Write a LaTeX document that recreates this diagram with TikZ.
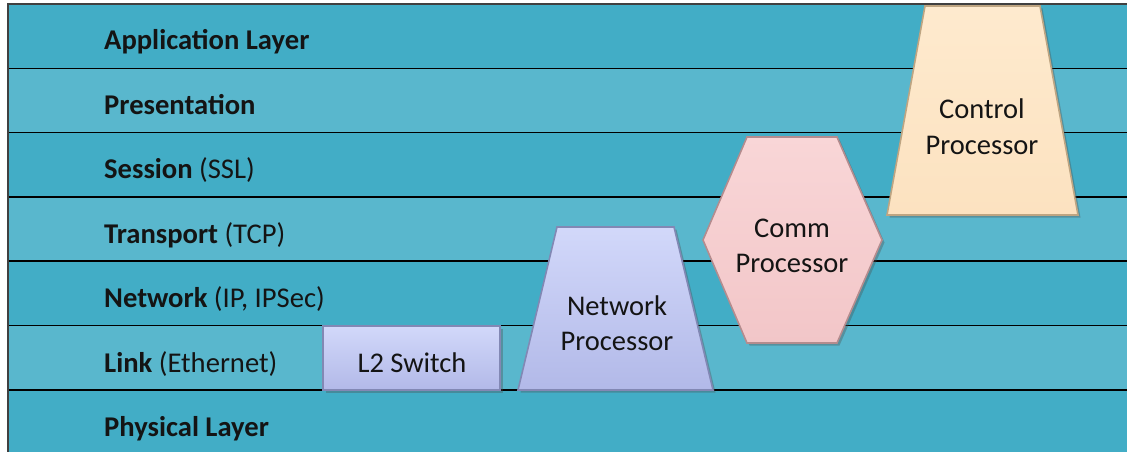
\documentclass[tikz,border=0pt]{standalone}
\usepackage{fontspec}
\setmainfont{Carlito}
\usetikzlibrary{shadows}
\definecolor{banddark}{RGB}{66,173,198}
\definecolor{bandlight}{RGB}{89,183,205}
\definecolor{lavtop}{RGB}{210,216,250}
\definecolor{lavbot}{RGB}{178,185,232}
\definecolor{lavedge}{RGB}{130,136,180}
\definecolor{pinktop}{RGB}{249,214,215}
\definecolor{pinkbot}{RGB}{242,198,200}
\definecolor{pinkedge}{RGB}{180,140,142}
\definecolor{peachtop}{RGB}{254,234,206}
\definecolor{peachbot}{RGB}{252,226,192}
\definecolor{peachedge}{RGB}{190,165,130}
\definecolor{txt}{RGB}{20,20,20}
\tikzset{
  lbl/.style={anchor=base west, inner sep=0pt, text=txt, font=\fontsize{28.6}{34}\selectfont},
  shptxt/.style={anchor=base, inner sep=0pt, text=txt, font=\fontsize{28.5}{34}\selectfont},
  sep/.style={draw=black, line width=1.5pt},
  boxshape/.style={line width=1.6pt, drop shadow={shadow xshift=2.5pt, shadow yshift=-2.5pt, opacity=0.35, fill=black!70}},
  lav/.style={boxshape, draw=lavedge, top color=lavtop, bottom color=lavbot},
  pnk/.style={boxshape, draw=pinkedge, top color=pinktop, bottom color=pinkbot},
  pch/.style={boxshape, draw=peachedge, top color=peachtop, bottom color=peachbot}
}
\begin{document}
\begin{tikzpicture}[x=1pt,y=-1pt]
\useasboundingbox (0,0) rectangle (1127,452);
\fill[white] (0,0) rectangle (1127,452);
% bands
\foreach \i in {0,...,6}{
  \pgfmathsetmacro\ytop{4+64.3*\i}
  \pgfmathsetmacro\ybot{4+64.3*(\i+1)}
  \pgfmathtruncatemacro\odd{mod(\i,2)}
  \ifnum\odd=0
    \fill[banddark] (8,\ytop) rectangle (1127,\ybot);
  \else
    \fill[bandlight] (8,\ytop) rectangle (1127,\ybot);
  \fi
}
\foreach \i in {1,...,6}{
  \pgfmathsetmacro\yy{4+64.3*\i}
  \draw[sep] (8,\yy) -- (1127,\yy);
}
\draw[black!75, line width=1.2pt] (8,452) -- (8,4) -- (1127,4);
% layer labels
\node[lbl] (app)  at (104,50)  {\textbf{Application Layer}};
\node[lbl] (pres) at (104,114) {\textbf{Presentation}};
\node[lbl] (sess) at (104,178) {\textbf{Session} (SSL)};
\node[lbl] (tran) at (104,243) {\textbf{Transport} (TCP)};
\node[lbl] (netw) at (104,307) {\textbf{Network} (IP, IPSec)};
\node[lbl] (link) at (104,372) {\textbf{Link} (Ethernet)};
\node[lbl] (phys) at (104,436) {\textbf{Physical Layer}};
% shapes
\path[lav] (323,326) rectangle (500,390);
\path[lav] (557,227) -- (674,227) -- (713,390) -- (518,390) -- cycle;
\path[pnk] (747,137) -- (837,137) -- (882,240) -- (837,343) -- (747,343) -- (703,240) -- cycle;
\path[pch] (925,6) -- (1040,6) -- (1078,215) -- (887,215) -- cycle;
% shape texts
\node[shptxt] (l2)    at (412,372) {L2 Switch};
\node[shptxt] (np1)   at (617,315) {Network};
\node[shptxt] (np2)   at (617,350) {Processor};
\node[shptxt] (cm1)   at (792,237) {Comm};
\node[shptxt] (cm2)   at (792,272) {Processor};
\node[shptxt] (cp1)   at (982,118) {Control};
\node[shptxt] (cp2)   at (982,154) {Processor};
\end{tikzpicture}
\end{document}
